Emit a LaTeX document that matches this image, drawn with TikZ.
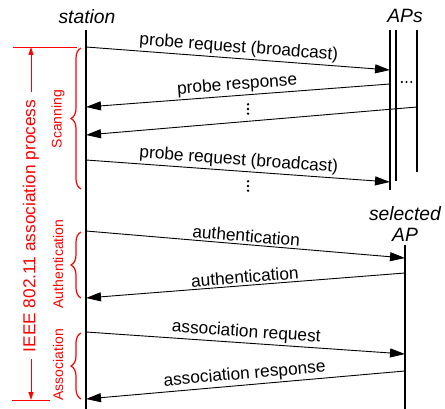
\documentclass[tikz,border=0pt]{standalone}
\usepackage{fontspec}
\setmainfont{Liberation Sans}
\usetikzlibrary{arrows.meta,decorations.pathreplacing}
\begin{document}
\begin{tikzpicture}[x=1pt,y=-1pt,
  msg/.style={line width=0.9pt,-{Triangle[length=15pt,width=9pt]}},
  msgback/.style={line width=0.9pt,{Triangle[length=15pt,width=9pt]}-},
  msgl/.style={sloped,above,inner sep=2pt,font=\fontsize{17.3}{20}\selectfont},
  hdr/.style={font=\fontsize{19.3}{21}\selectfont\itshape,align=center,inner sep=0pt},
  life/.style={line width=2pt},
  lifethin/.style={line width=1.4pt},
  phase/.style={red,line width=1.2pt,decorate,decoration={brace,amplitude=10pt}},
  phasel/.style={red,rotate=90,font=\fontsize{14}{16}\selectfont,inner sep=0pt},
  dim/.style={red,line width=0.9pt},
  dimarrow/.style={red,line width=0.9pt,-{Triangle[length=8pt,width=5pt]}},
  dot/.style={fill=black}
]
\useasboundingbox (0,0) rectangle (445,409);

% headers
\node[hdr] (station) at (87,17) {station};
\node[hdr] (aps) at (405,16) {APs};
\node[hdr] (sel) at (405,224) {selected\\AP};

% lifelines
\coordinate (st0) at (86,30);  \coordinate (st1) at (86,409);
\coordinate (a10) at (390,30); \coordinate (a11) at (390,190);
\coordinate (a20) at (396,30); \coordinate (a21) at (396,181);
\coordinate (a30) at (417,30); \coordinate (a31) at (417,172);
\coordinate (sa0) at (405,245); \coordinate (sa1) at (405,409);
\draw[life] (st0) -- (st1);
\draw[life] (a10) -- (a11);
\draw[lifethin] (a20) -- (a21);
\draw[lifethin] (a30) -- (a31);
\draw[lifethin] (sa0) -- (sa1);

% message end points
\coordinate (s1) at (86,47);   \coordinate (r1) at (390,70);
\coordinate (r2) at (390,84);  \coordinate (s2) at (86,107);
\coordinate (r3) at (417,107); \coordinate (s3) at (86,135);
\coordinate (s4) at (86,160);  \coordinate (r4) at (390,182);
\coordinate (s5) at (86,231);  \coordinate (r5) at (405,258);
\coordinate (r6) at (405,273); \coordinate (s6) at (86,298);
\coordinate (s7) at (86,332);  \coordinate (r7) at (405,354);
\coordinate (r8) at (405,371); \coordinate (s8) at (86,399);

\draw[msg] (s1) -- node[msgl]{probe request (broadcast)} (r1);
\draw[msgback] (s2) -- node[msgl]{probe response} (r2);
\draw[msgback] (s3) -- (r3);
\draw[msg] (s4) -- node[msgl]{probe request (broadcast)} (r4);
\draw[msg] (s5) -- node[msgl]{authentication} (r5);
\draw[msgback] (s6) -- node[msgl]{authentication} (r6);
\draw[msg] (s7) -- node[msgl]{association request} (r7);
\draw[msgback] (s8) -- node[msgl]{association response} (r8);

% ellipsis dots
\foreach \d in {-4.7,0,4.7} {
  \fill[dot] (248,109+\d) circle (1.3pt);
  \fill[dot] (248,186+\d) circle (1.3pt);
  \fill[dot] (406.5+\d,82) circle (1.2pt);
}

% phase braces
\coordinate (b1a) at (81,189); \coordinate (b1b) at (81,48);
\coordinate (b2a) at (81,298); \coordinate (b2b) at (81,232);
\coordinate (b3a) at (81,399); \coordinate (b3b) at (81,333);
\draw[phase] (b1a) -- (b1b);
\draw[phase] (b2a) -- (b2b);
\draw[phase] (b3a) -- (b3b);
\node[phasel] (scan) at (58,119) {Scanning};
\node[phasel] (auth) at (58,264) {Authentication};
\node[phasel] (assoc) at (58,365) {Association};

% overall process dimension
\coordinate (d1a) at (13,47);  \coordinate (d1b) at (77,47);
\coordinate (d2a) at (12,400); \coordinate (d2b) at (50,400);
\coordinate (d1t) at (31,47);  \coordinate (d2t) at (31,400);
\draw[dim] (d1a) -- (d1b);
\draw[dim] (d2a) -- (d2b);
\node[red,rotate=90,font=\fontsize{17.3}{20}\selectfont,inner sep=7pt] (proc) at (31,226) {IEEE 802.11 association process};
\draw[dimarrow] (proc.east) -- (d1t);
\draw[dimarrow] (proc.west) -- (d2t);
\end{tikzpicture}
\end{document}
